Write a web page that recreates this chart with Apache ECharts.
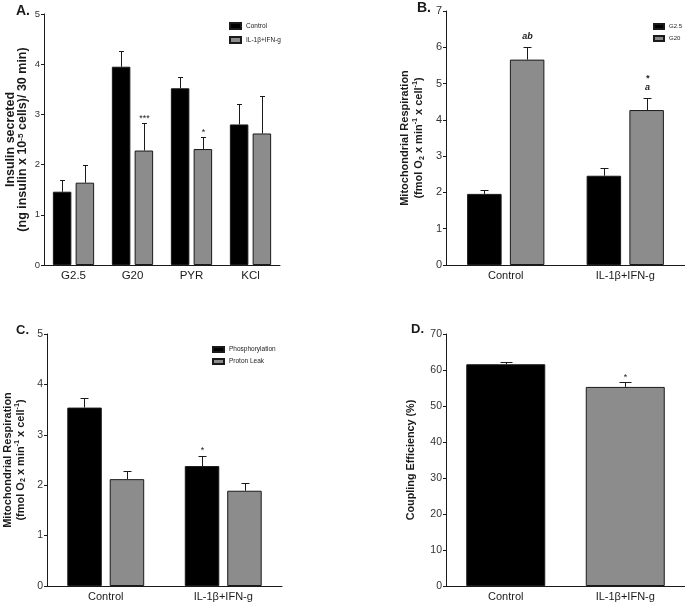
<!DOCTYPE html>
<html>
<head>
<meta charset="utf-8">
<script src="https://cdn.jsdelivr.net/npm/echarts@6/dist/echarts.min.js"></script>
<style>
html,body{margin:0;padding:0;background:#fff;}
#chart{width:685px;height:602px;}
</style>
</head>
<body>
<div id="chart"></div>
<script>
// ---------- Data ----------
// Panel A: insulin secretion
const catA = ['G2.5', 'G20', 'PYR', 'KCl'];
const aControl = [1.46, 3.95, 3.52, 2.80];
const aControlSem = [0.23, 0.31, 0.22, 0.41];
const aIL = [1.64, 2.28, 2.31, 2.62];
const aILSem = [0.36, 0.55, 0.23, 0.75];
const aILNotes = ['', '***', '*', ''];
const aTicks = [0, 5, 1];

// Panel B: mitochondrial respiration by glucose
const catB = ['Control', 'IL-1β+IFN-g'];
const bG25 = [1.96, 2.46];
const bG25Sem = [0.11, 0.20];
const bG20 = [5.66, 4.27];
const bG20Sem = [0.35, 0.34];
const bG20Notes = ['ab', '*\na'];
const bTicks = [0, 7, 1];

// Panel C: phosphorylation vs proton leak
const catC = ['Control', 'IL-1β+IFN-g'];
const cPhos = [3.54, 2.38];
const cPhosSem = [0.20, 0.20];
const cPhosNotes = ['', '*'];
const cLeak = [2.12, 1.89];
const cLeakSem = [0.16, 0.16];
const cTicks = [0, 5, 1];

// Panel D: coupling efficiency
const catD = ['Control', 'IL-1β+IFN-g'];
const dEff = [61.6, 55.3];
const dEffSem = [0.5, 1.3];
const dNotes = ['', '*'];
const dTicks = [0, 70, 10];

// ---------- Styles ----------
const FONT = '"Liberation Sans", Arial, Helvetica, sans-serif';
const BLACK = '#000000';
const GRAY = '#8c8c8c';
const INK = '#1a1a1a';

function errSeries(name, idx, means, sems, notes, offset, capW, noteFont, noteGap) {
  return {
    type: 'custom',
    name: name,
    xAxisIndex: idx,
    yAxisIndex: idx,
    z: 10,
    silent: true,
    clip: false,
    data: means.map((m, i) => [i, m, sems[i]]),
    renderItem: function (params, api) {
      const i = api.value(0), m = api.value(1), s = api.value(2);
      const p0 = api.coord([i, m]);
      const p1 = api.coord([i, m + s]);
      const cx = Math.round(p0[0] + offset) + 0.5;
      const ty = Math.round(p1[1]) + 0.5;
      const children = [
        { type: 'line', shape: { x1: cx, y1: p0[1], x2: cx, y2: ty }, style: { stroke: INK, lineWidth: 1 } },
        { type: 'line', shape: { x1: cx - capW / 2, y1: ty, x2: cx + capW / 2, y2: ty }, style: { stroke: INK, lineWidth: 1 } }
      ];
      const t = notes ? notes[params.dataIndex] : '';
      if (t) {
        children.push({
          type: 'text',
          style: { text: t, x: cx, y: ty - noteGap, align: 'center', verticalAlign: 'bottom',
                   font: noteFont, fill: INK, lineHeight: 9 }
        });
      }
      return { type: 'group', children: children };
    }
  };
}

function barSeries(name, idx, values, color, width, gap) {
  const s = {
    type: 'bar', name: name, xAxisIndex: idx, yAxisIndex: idx,
    data: values, barWidth: width,
    itemStyle: { color: color, borderColor: INK, borderWidth: 1 }
  };
  if (gap !== undefined) s.barGap = gap;
  return s;
}

function xAxisDef(idx, cats, fontSize) {
  return {
    type: 'category', gridIndex: idx, data: cats,
    axisLine: { lineStyle: { color: INK, width: 1 } },
    axisTick: { alignWithLabel: true, length: 4, lineStyle: { color: INK } },
    axisLabel: { color: INK, fontSize: fontSize, fontFamily: FONT, margin: 5 },
    splitLine: { show: false }
  };
}

function yAxisDef(idx, ticks, fontSize, name, nameGap, rich, lineHeight) {
  return {
    type: 'value', gridIndex: idx, min: ticks[0], max: ticks[1], interval: ticks[2],
    axisLine: { show: true, lineStyle: { color: INK, width: 1 } },
    axisTick: { show: true, length: 3, lineStyle: { color: INK } },
    axisLabel: { color: '#333', fontSize: fontSize, fontFamily: FONT, margin: 4 },
    splitLine: { show: false },
    name: name, nameLocation: 'middle', nameRotate: 90, nameGap: nameGap,
    nameTextStyle: { color: INK, fontFamily: FONT, fontWeight: 'bold', fontSize: rich.base.fontSize,
                     lineHeight: lineHeight, align: 'center', rich: rich }
  };
}

function mkRich(fs, lh) {
  return {
    base: { fontSize: fs, fontWeight: 'bold', fontFamily: FONT, color: INK, lineHeight: lh },
    sup: { fontSize: fs * 0.65, fontWeight: 'bold', fontFamily: FONT, color: INK, verticalAlign: 'top', lineHeight: lh },
    sub: { fontSize: fs * 0.65, fontWeight: 'bold', fontFamily: FONT, color: INK, verticalAlign: 'bottom', lineHeight: lh }
  };
}

const nameA = '{base|Insulin secreted}\n{base|(ng insulin x 10}{sup|-5}{base| cells)/ 30 min)}';
const nameB = '{base|Mitochondrial Respiration}\n{base|(fmol O}{sub|2}{base| x min}{sup|-1}{base| x cell}{sup|-1}{base|)}';
const nameD = '{base|Coupling Efficiency (%)}';

const legendText = (fs) => ({ color: '#222', fontSize: fs, fontFamily: FONT });

const chart = echarts.init(document.getElementById('chart'), null, { renderer: 'canvas' });
chart.setOption({
  backgroundColor: '#ffffff',
  animation: false,
  grid: [
    { left: 44, top: 14, width: 236, height: 251 },
    { left: 446, top: 11, width: 239, height: 254 },
    { left: 45, top: 334, width: 237, height: 252 },
    { left: 446, top: 334, width: 239, height: 252 }
  ],
  xAxis: [
    xAxisDef(0, catA, 11.5),
    xAxisDef(1, catB, 11),
    xAxisDef(2, catC, 11),
    xAxisDef(3, catD, 11)
  ],
  yAxis: [
    yAxisDef(0, aTicks, 9.5, nameA, 15, mkRich(12.5, 12), 12),
    yAxisDef(1, bTicks, 11, nameB, 20, mkRich(11, 14), 14),
    yAxisDef(2, cTicks, 10.5, nameB, 20, mkRich(11, 13), 13),
    yAxisDef(3, dTicks, 10.5, nameD, 29, mkRich(10.8, 12), 12)
  ],
  legend: [
    { orient: 'vertical', left: 224, top: 17, itemWidth: 11, itemHeight: 6, itemGap: 6, icon: 'rect',
      data: ['Control', 'IL-1β+IFN-g'], textStyle: legendText(6.5), selectedMode: false },
    { orient: 'vertical', left: 648, top: 18, itemWidth: 10, itemHeight: 5, itemGap: 5, icon: 'rect',
      data: ['G2.5', 'G20'], textStyle: legendText(6), selectedMode: false },
    { orient: 'vertical', left: 207, top: 341, itemWidth: 11, itemHeight: 5, itemGap: 5, icon: 'rect',
      data: ['Phosphorylation', 'Proton Leak'], textStyle: legendText(6.5), selectedMode: false }
  ],
  graphic: [
    { type: 'text', left: 16, top: 4, style: { text: 'A.', font: 'bold 14px ' + FONT, fill: INK } },
    { type: 'text', left: 417, top: 1, style: { text: 'B.', font: 'bold 14px ' + FONT, fill: INK } },
    { type: 'text', left: 16, top: 324, style: { text: 'C.', font: 'bold 13px ' + FONT, fill: INK } },
    { type: 'text', left: 411, top: 323, style: { text: 'D.', font: 'bold 13px ' + FONT, fill: INK } }
  ],
  series: [
    barSeries('Control', 0, aControl, BLACK, 18.5, '23%'),
    barSeries('IL-1β+IFN-g', 0, aIL, GRAY, 18.5, '23%'),
    errSeries('errA1', 0, aControl, aControlSem, null, -11.4, 5),
    errSeries('errA2', 0, aIL, aILSem, aILNotes, 11.4, 5, '9px ' + FONT, 0),

    barSeries('G2.5', 1, bG25, BLACK, 34.5, '24%'),
    barSeries('G20', 1, bG20, GRAY, 34.5, '24%'),
    errSeries('errB1', 1, bG25, bG25Sem, null, -21.4, 8),
    errSeries('errB2', 1, bG20, bG20Sem, bG20Notes, 21.4, 8, 'italic bold 9px ' + FONT, 6),

    barSeries('Phosphorylation', 2, cPhos, BLACK, 34.5, '23%'),
    barSeries('Proton Leak', 2, cLeak, GRAY, 34.5, '23%'),
    errSeries('errC1', 2, cPhos, cPhosSem, cPhosNotes, -21.3, 8, '9px ' + FONT, 1),
    errSeries('errC2', 2, cLeak, cLeakSem, null, 21.3, 8),

    {
      type: 'bar', name: 'Coupling Efficiency', xAxisIndex: 3, yAxisIndex: 3, barWidth: 79,
      data: dEff.map((v, i) => ({ value: v, itemStyle: { color: i === 0 ? BLACK : GRAY } })),
      itemStyle: { borderColor: INK, borderWidth: 1 }
    },
    errSeries('errD', 3, dEff, dEffSem, dNotes, 0, 12, '9px ' + FONT, 0)
  ]
});
</script>
</body>
</html>
